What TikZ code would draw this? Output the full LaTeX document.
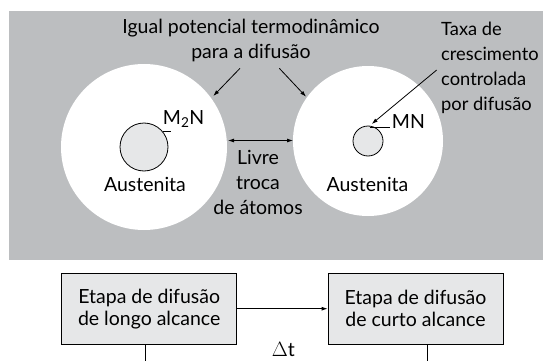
\documentclass[tikz,border=0pt]{standalone}
\usepackage{fontspec}
\setmainfont{Lato}
\usetikzlibrary{arrows.meta}
\definecolor{bggray}{HTML}{BCBEC0}
\definecolor{lightfill}{HTML}{E6E7E8}
\begin{document}
\begin{tikzpicture}[x=1pt,y=-1pt,
  txt/.style={inner sep=0pt,font=\fontsize{19.5}{25}\selectfont},
  arr/.style={line width=0.8pt,-{Latex[length=6pt,width=4pt]}},
  darr/.style={line width=0.8pt,{Latex[length=6pt,width=4pt]}-{Latex[length=6pt,width=4pt]}},
  ln/.style={line width=0.8pt},
  stagebox/.style={draw,line width=0.8pt,fill=lightfill,minimum width=175pt,minimum height=70.7pt,inner sep=0pt,align=center,font=\fontsize{19.5}{22}\selectfont}]
\useasboundingbox (0,0) rectangle (543,361);
\fill[bggray] (9,11) rectangle (543,260);
% big circles
\fill[white] (144,147) circle (83);
\fill[white] (368,141) circle (75);
% small circles
\node[circle,draw,line width=0.8pt,fill=lightfill,minimum size=48pt,inner sep=0pt] (m2n) at (144,147) {};
\node[circle,draw,line width=0.8pt,fill=lightfill,minimum size=30pt,inner sep=0pt] (mn) at (368,141) {};
% labels
\node[txt,anchor=base] (aus1) at (145,191.7) {Austenita};
\node[txt,anchor=base] (aus2) at (367.5,191.7) {Austenita};
\node[txt,anchor=base west] (lm2n) at (162.7,124) {M\textsubscript{2}N};
\node[txt,anchor=base west] (lmn) at (391.7,128.3) {MN};
\node[txt,align=center] (igual) at (251,40) {Igual potencial termodinâmico\\para a difusão};
\node[txt,align=left,anchor=west,font=\fontsize{18.3}{25}\selectfont] (taxa) at (441,68) {Taxa de\\crescimento\\controlada\\por difusão};
\node[txt,align=center] (livre) at (258,182) {Livre\\troca\\de átomos};
% leader ticks
\coordinate (t1a) at (162.5,131.7);
\coordinate (t1b) at (171,131.7);
\draw[ln] (t1a) -- (t1b);
\coordinate (t2a) at (370,127.7);
\coordinate (t2b) at (390,127.7);
\draw[ln] (t2a) -- (t2b);
% arrows
\coordinate (a1s) at (240,68.3);
\coordinate (a1e) at (213.3,96);
\coordinate (a2s) at (279.3,68.3);
\coordinate (a2e) at (306,96.7);
\coordinate (a3s) at (436.7,70);
\coordinate (a3e) at (371.7,124);
\coordinate (dl) at (228,140.5);
\coordinate (dr) at (293,140.5);
\draw[arr] (a1s) -- (a1e);
\draw[arr] (a2s) -- (a2e);
\draw[arr] (a3s) -- (a3e);
\draw[darr] (dl) -- (dr);
% stage boxes
\node[stagebox] (lb) at (149.2,308.7) {Etapa de difusão\\de longo alcance};
\node[stagebox] (rb) at (415.5,308.7) {Etapa de difusão\\de curto alcance};
\draw[arr] (lb.east) -- (rb.west);
\node[txt,anchor=base] (dt) at (283.3,356) {$\Delta$t};
\coordinate (lend) at (145.7,361);
\coordinate (rend) at (427.3,361);
\draw[ln] (lend |- lb.south) -- (lend);
\draw[ln] (rend |- rb.south) -- (rend);
\end{tikzpicture}
\end{document}
